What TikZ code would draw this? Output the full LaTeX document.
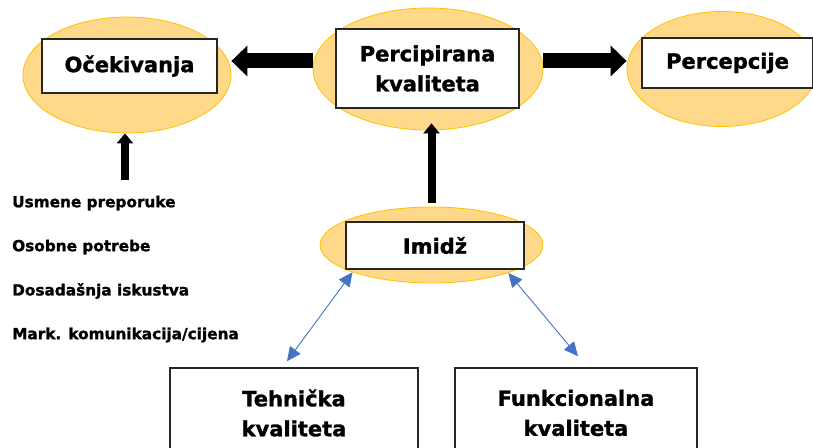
\documentclass[tikz,border=0pt]{standalone}
\usepackage{fontspec}
\setmainfont{DejaVu Sans}[BoldFeatures={FakeBold=1.3}]
\usepackage{tikz}
\usetikzlibrary{positioning,arrows.meta,shapes.geometric}
\definecolor{ellfill}{HTML}{FFD98A}
\definecolor{elldraw}{HTML}{FFC000}
\definecolor{arrblue}{HTML}{4472C4}
\tikzset{
  ellnode/.style={ellipse, draw=elldraw, fill=ellfill, line width=0.8pt, inner sep=0pt},
  boxnode/.style={rectangle, draw=black!85, fill=white, line width=1.5pt, inner sep=0pt,
                  font=\fontsize{21}{30}\selectfont\bfseries, align=center},
  listtext/.style={anchor=west, inner sep=0pt, font=\fontsize{15.3}{17}\selectfont\bfseries},
  blockarrow/.style={-{Triangle[length=16pt,width=30pt]}, line width=15pt},
  uparrow/.style={-{Triangle[length=10pt,width=16pt]}, line width=8pt},
  bluearrow/.style={{Triangle[length=14pt,width=13pt]}-{Triangle[length=14pt,width=13pt]},
                    draw=arrblue, line width=0.9pt},
}
\begin{document}
\begin{tikzpicture}[x=1pt, y=1pt]
  \useasboundingbox (0,0) rectangle (813,447);
  % ellipses
  \node[ellnode, minimum width=208pt, minimum height=116pt] (ocek) at (127,372) {};
  \node[ellnode, minimum width=230pt, minimum height=122pt] (perc) at (428,378) {};
  \node[ellnode, minimum width=190pt, minimum height=115pt] (percep) at (722,378) {};
  \node[ellnode, minimum width=223pt, minimum height=76pt] (imid) at (431.5,202) {};

  % boxes
  \node[boxnode, minimum width=175pt, minimum height=54pt] (ocekbox) at (129.5,381) {Očekivanja};
  \node[boxnode, minimum width=183pt, minimum height=79pt] (percbox) at (427.5,378.5) {Percipirana\\kvaliteta};
  \node[boxnode, minimum width=171pt, minimum height=50pt] (percepbox) at (727.5,384) {Percepcije};
  \node[boxnode, minimum width=178pt, minimum height=47pt] (imidbox) at (435,201.5) {Imidž};
  \node[boxnode, minimum width=248pt, minimum height=90pt] (teh) at (294,34) {Tehnička\\kvaliteta};
  \node[boxnode, minimum width=242pt, minimum height=90pt] (fun) at (576,34) {Funkcionalna\\kvaliteta};

  % list on the left
  \node[listtext] (usm) at (12,244) {Usmene preporuke};
  \node[listtext] (oso) at (12,200) {Osobne potrebe};
  \node[listtext] (dos) at (12,156) {Dosadašnja iskustva};
  \node[listtext] (mark) at (12,112) {Mark. komunikacija/cijena};
  \coordinate (usmtop) at (125,267);

  \draw[blockarrow] ([yshift=8pt]perc.west) -- ([yshift=8pt]perc.west -| ocek.east);
  \draw[blockarrow] ([yshift=8pt]perc.east) -- ([yshift=8pt]perc.east -| percep.west);
  \draw[uparrow] (usmtop) -- (usmtop |- ocek.south);
  \draw[uparrow] ([yshift=4pt]imid.north) -- ([yshift=7pt]imid.north |- perc.south);
  \draw[bluearrow] (imid.199) -- ([xshift=-7pt,yshift=6pt]teh.north);
  \draw[bluearrow] (imid.-20) -- ([xshift=2pt,yshift=11pt]fun.north);
\end{tikzpicture}
\end{document}
